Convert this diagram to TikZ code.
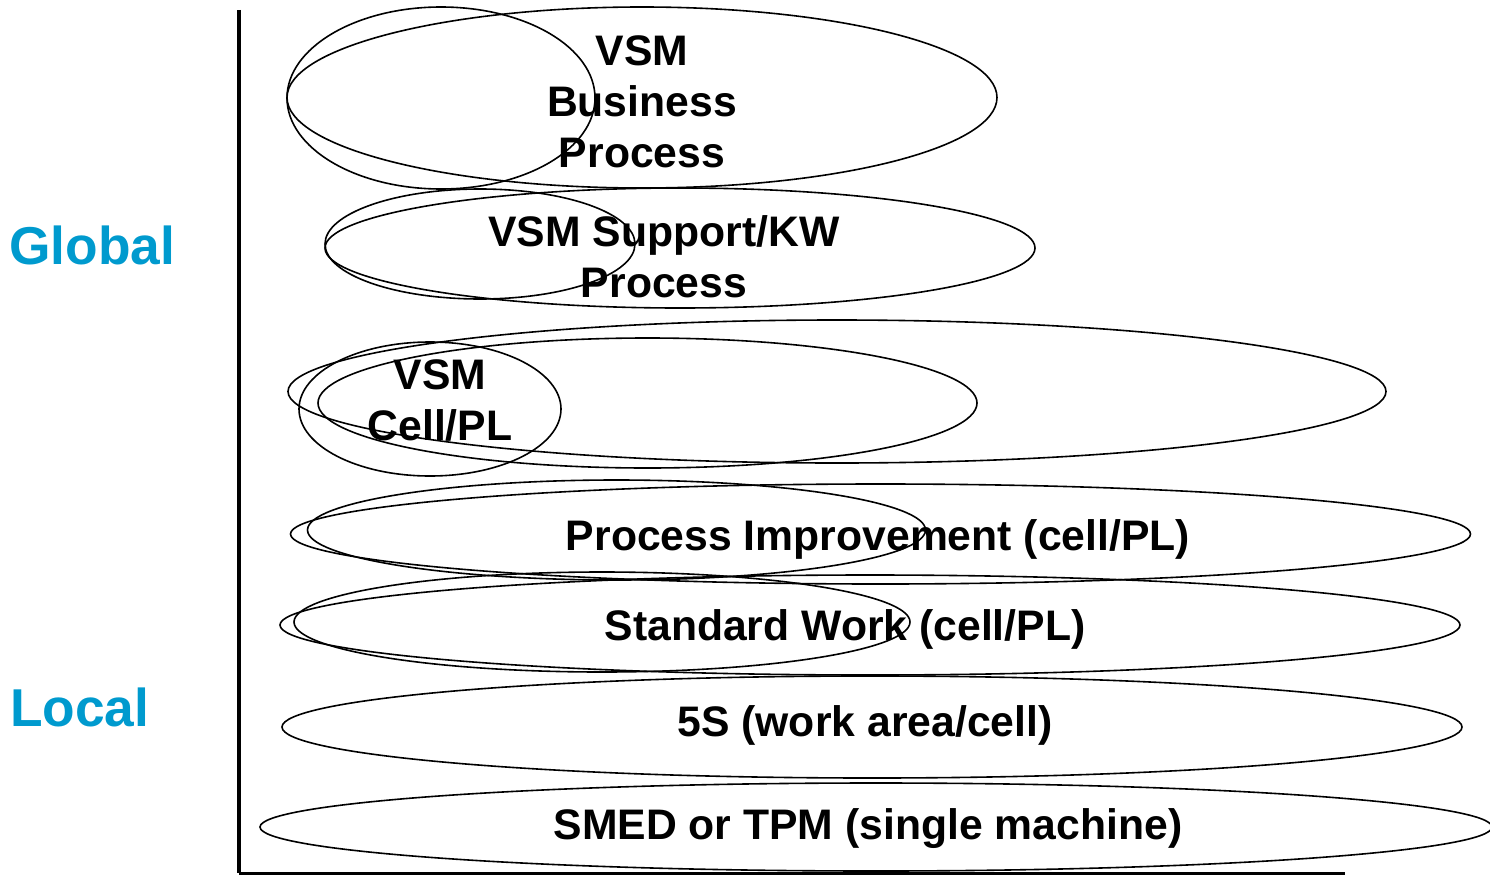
\documentclass[tikz,border=0pt]{standalone}
\usepackage{fontspec}
\setmainfont{Liberation Sans}
\usetikzlibrary{shapes.geometric}
\definecolor{scopeblue}{RGB}{0,154,206}
\tikzset{
  ring/.style={draw=black, line width=1.6pt, ellipse, inner sep=0pt, fill=none},
  lbl/.style={font=\fontsize{42.7}{51}\selectfont\bfseries, align=center, inner sep=0pt},
  levellbl/.style={font=\fontsize{53.3}{60}\selectfont\bfseries, text=scopeblue, inner sep=0pt},
  axis/.style={line width=4.6pt, black}
}
\begin{document}
\begin{tikzpicture}[x=1pt,y=-1pt]
\useasboundingbox (0,0) rectangle (1490,875);

% axes
\coordinate (top) at (239,10);
\coordinate (origin) at (239,873);
\coordinate (right) at (1345,873);
\draw[axis] (top) -- (origin);
\draw[axis, line width=3pt] (origin) -- (right);

% level labels
\node[levellbl, anchor=west] (global) at (9,245) {Global};
\node[levellbl, anchor=west] (local) at (10,707) {Local};

% VSM business process
\node[ring, minimum width=710, minimum height=181] (bpOuter) at (642,97.5) {};
\node[ring, minimum width=308, minimum height=182] (bpInner) at (441,98) {};
\node[lbl] (bpText) at (642,102) {VSM\\Business\\Process};

% VSM support / knowledge work process
\node[ring, minimum width=710, minimum height=120] (supOuter) at (680,248) {};
\node[ring, minimum width=310, minimum height=110] (supInner) at (480,244) {};
\node[lbl] (supText) at (664,257) {VSM Support/KW\\Process};

% VSM cell / production line
\node[ring, minimum width=1098, minimum height=143] (cellOuter) at (837,391.5) {};
\node[ring, minimum width=659, minimum height=130] (cellMid) at (647.5,403) {};
\node[ring, minimum width=262, minimum height=134] (cellInner) at (430,409) {};
\node[lbl] (cellText) at (440,401) {VSM\\Cell/PL};

% process improvement
\node[ring, minimum width=1180, minimum height=100] (piOuter) at (880.5,534) {};
\node[ring, minimum width=618, minimum height=100] (piInner) at (616.5,530) {};
\node[lbl] (piText) at (878,539) {Process Improvement (cell/PL)};

% standard work
\node[ring, minimum width=1180, minimum height=100] (swOuter) at (870,625) {};
\node[ring, minimum width=616, minimum height=100] (swInner) at (602,622) {};
\node[lbl] (swText) at (845,629) {Standard Work (cell/PL)};

% 5S
\node[ring, minimum width=1180, minimum height=102] (fiveS) at (872,727) {};
\node[lbl] (fiveSText) at (865,725) {5S (work area/cell)};

% SMED / TPM
\node[ring, minimum width=1232, minimum height=88] (smed) at (876,827) {};
\node[lbl] (smedText) at (868,829) {SMED or TPM (single machine)};
\end{tikzpicture}
\end{document}
